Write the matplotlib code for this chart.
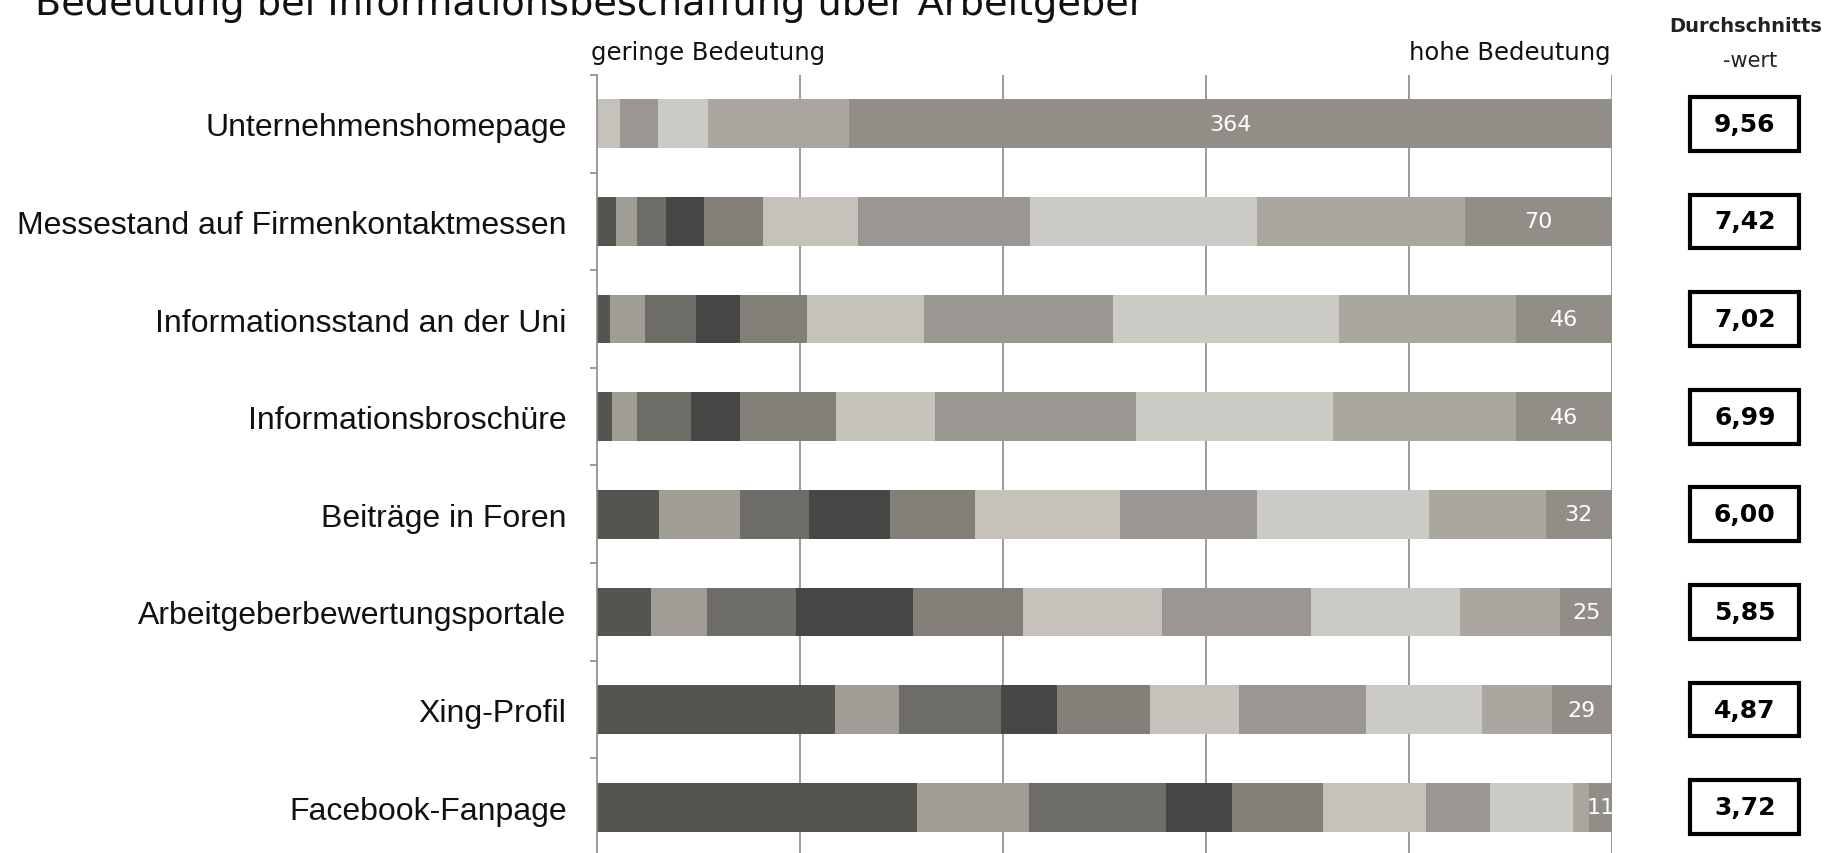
import numpy as np
import matplotlib
matplotlib.use("Agg")
import matplotlib.pyplot as plt
from matplotlib.patches import Rectangle
import matplotlib.transforms as mtransforms

# Kategorien (von oben nach unten)
categories = ['Unternehmenshomepage', 'Messestand auf Firmenkontaktmessen',
              'Informationsstand an der Uni', 'Informationsbroschüre',
              'Beiträge in Foren', 'Arbeitgeberbewertungsportale',
              'Xing-Profil', 'Facebook-Fanpage']

# Anzahl Antworten je Bewertung 1..10
homepage = [0, 0, 0, 0, 0, 11, 18, 24, 67, 364]
messe = [9, 10, 14, 18, 28, 45, 82, 108, 99, 70]
infostand = [6, 17, 24, 21, 32, 56, 90, 108, 84, 46]
broschuere = [7, 12, 26, 23, 46, 47, 96, 94, 87, 46]
foren = [30, 39, 33, 39, 41, 70, 66, 83, 56, 32]
portale = [26, 27, 43, 56, 53, 67, 72, 72, 48, 25]
xing = [115, 31, 49, 27, 45, 43, 61, 56, 34, 29]
facebook = [155, 54, 66, 32, 44, 50, 31, 40, 8, 11]

# Durchschnittswerte
means = [9.56, 7.42, 7.02, 6.99, 6.00, 5.85, 4.87, 3.72]

colors = ['#55554f', '#a09d96', '#6e6c67', '#464644', '#827f79',
          '#c5c2bb', '#9a9792', '#cccac4', '#aaa7a1', '#918e88']

data = np.array([homepage, messe, infostand, broschuere, foren, portale, xing, facebook], dtype=float)
pct = data / data.sum(axis=1, keepdims=True) * 100

fig = plt.figure(figsize=(18.36, 8.54), dpi=100)
ax = fig.add_axes([0.3252, -0.0035, 0.5528, 0.9145])

y = np.arange(len(categories))
left = np.zeros(len(categories))
for k in range(10):
    bars = ax.barh(y, pct[:, k], left=left, height=0.5, color=colors[k], zorder=2)
    left += pct[:, k]
    if k == 9:
        # nur die letzte Kategorie wird beschriftet
        for i, b in enumerate(bars):
            ax.text(b.get_x() + b.get_width() / 2, b.get_y() + b.get_height() / 2,
                    str(int(data[i, k])), color='white', ha='center', va='center',
                    fontsize=16, family='DejaVu Sans', zorder=3)

ax.set_xlim(0, 100)
ax.set_ylim(len(categories) - 0.5, -0.5)
ax.set_xticks([20, 40, 60, 80, 100])
ax.xaxis.grid(True, color='#8a8a8a', linewidth=1.2, zorder=0)
ax.tick_params(axis='x', length=0, labelbottom=False)
ax.set_axisbelow(True)

ax.set_yticks(y)
ax.set_yticklabels(categories, fontsize=23, family='Liberation Sans', color='#111111')
ax.set_yticks(np.arange(len(categories) + 1) - 0.5, minor=True)
ax.tick_params(axis='y', which='major', length=0, pad=22)
ax.tick_params(axis='y', which='minor', length=5, width=1.2, color='#8a8a8a')

for s in ['top', 'right', 'bottom']:
    ax.spines[s].set_visible(False)
ax.spines['left'].set_color('#8a8a8a')
ax.spines['left'].set_linewidth(1.2)

# Titel und Achsenbeschriftungen
fig.text(0.019, 0.982, 'Bedeutung bei Informationsbeschaffung über Arbeitgeber',
         fontsize=27.5, family='DejaVu Sans', va='baseline', color='#111111')
fig.text(0.322, 0.938, 'geringe Bedeutung', fontsize=17.5, family='DejaVu Sans',
         va='center', ha='left', color='#111111')
fig.text(0.877, 0.938, 'hohe Bedeutung', fontsize=17.5, family='DejaVu Sans',
         va='center', ha='right', color='#111111')
fig.text(0.951, 0.969, 'Durchschnitts', fontsize=14, family='DejaVu Sans',
         weight='bold', va='center', ha='center', color='#222222')
fig.text(0.953, 0.928, '-wert', fontsize=15, family='DejaVu Sans',
         va='center', ha='center', color='#222222')

# Kästchen mit Durchschnittswerten
trans = mtransforms.blended_transform_factory(fig.transFigure, ax.transData)
for i, m in enumerate(means):
    rect = Rectangle((0.9205, i - 0.275), 0.0595, 0.55, transform=trans,
                     fill=False, edgecolor='black', linewidth=3, clip_on=False)
    fig.add_artist(rect)
    t = fig.text(0.9503, 0, f'{m:.2f}'.replace('.', ','), transform=trans, fontsize=18,
                 weight='bold', family='DejaVu Sans', ha='center', va='center')
    t.set_position((0.9503, i))

fig.savefig('out.png', dpi=100)
